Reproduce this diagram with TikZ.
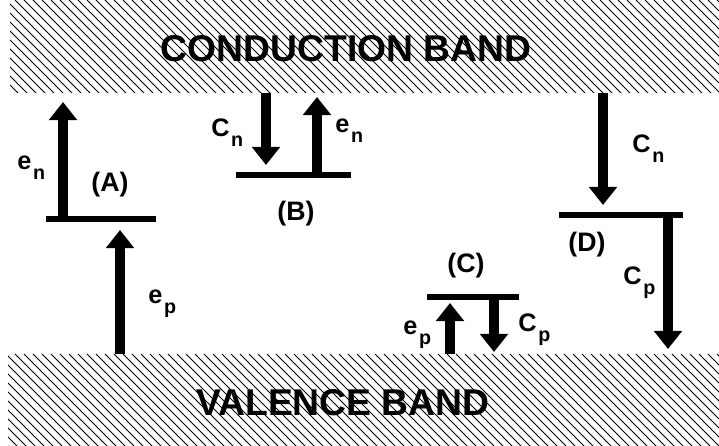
\documentclass[tikz,border=0pt]{standalone}
\usepackage{fontspec}
\setmainfont{Liberation Sans}
\usepackage{tikz}
\usetikzlibrary{arrows.meta}

\newcommand{\rate}[2]{#1\kern1.2pt\raisebox{-6.5pt}{\fontsize{14}{14}\selectfont #2}}

\tikzset{
  hatchline/.style={line width=0.55pt},
  bandtext/.style={font=\fontsize{26.5}{28}\selectfont\bfseries},
  level/.style={line width=0.15cm},
  carrier/.style={line width=0.24cm,-{Triangle[width=0.68cm,length=0.45cm]}},
  ratelbl/.style={anchor=base west,inner sep=0pt,font=\fontsize{18}{18}\selectfont\bfseries},
  casename/.style={font=\fontsize{19}{19}\selectfont\bfseries}
}

\begin{document}
\begin{tikzpicture}[x=0.025cm,y=-0.025cm]
  \useasboundingbox (0,0) rectangle (719,446);
  % conduction band
  \begin{scope}
    \clip (10,0) rectangle (719,93);
    \foreach \k in {-120,-111,...,719}
      \draw[hatchline] (\k,0) -- ++(120,120);
  \end{scope}
  % valence band
  \begin{scope}
    \clip (8,354) rectangle (719,446);
    \foreach \k in {-120,-111,...,719}
      \draw[hatchline] (\k,354) -- ++(120,120);
  \end{scope}
  \node[bandtext] (cb) at (346,49) {CONDUCTION BAND};
  \node[bandtext] (vb) at (343,403) {VALENCE BAND};

  % (A)
  \coordinate (A-l) at (46,219);
  \coordinate (A-r) at (156,219);
  \coordinate (A-en) at (63,219);
  \coordinate (A-en-tip) at (63,102);
  \coordinate (A-ep) at (120,354);
  \coordinate (A-ep-tip) at (120,230);
  \draw[level] (A-l) -- (A-r);
  \draw[carrier] (A-en) -- (A-en-tip);
  \draw[carrier] (A-ep) -- (A-ep-tip);
  \node[casename] (A) at (110,185) {(A)};
  \node[ratelbl] (A-en-lbl) at (17,170) {\rate{e}{n}};
  \node[ratelbl] (A-ep-lbl) at (148,304) {\rate{e}{p}};

  % (B)
  \coordinate (B-l) at (236,175);
  \coordinate (B-r) at (351,175);
  \coordinate (B-cn) at (266,93);
  \coordinate (B-cn-tip) at (266,165);
  \coordinate (B-en) at (317,175);
  \coordinate (B-en-tip) at (317,97);
  \draw[level] (B-l) -- (B-r);
  \draw[carrier] (B-cn) -- (B-cn-tip);
  \draw[carrier] (B-en) -- (B-en-tip);
  \node[casename] (B) at (296,214) {(B)};
  \node[ratelbl] (B-cn-lbl) at (211,137) {\rate{C}{n}};
  \node[ratelbl] (B-en-lbl) at (335,133) {\rate{e}{n}};

  % (C)
  \coordinate (C-l) at (427,297);
  \coordinate (C-r) at (519,297);
  \coordinate (C-ep) at (450,354);
  \coordinate (C-ep-tip) at (450,303);
  \coordinate (C-cp) at (494,297);
  \coordinate (C-cp-tip) at (494,352);
  \draw[level] (C-l) -- (C-r);
  \draw[carrier] (C-ep) -- (C-ep-tip);
  \draw[carrier] (C-cp) -- (C-cp-tip);
  \node[casename] (C) at (466,266) {(C)};
  \node[ratelbl] (C-ep-lbl) at (403,335) {\rate{e}{p}};
  \node[ratelbl] (C-cp-lbl) at (518,332) {\rate{C}{p}};

  % (D)
  \coordinate (D-l) at (559,215);
  \coordinate (D-r) at (683,215);
  \coordinate (D-cn) at (603,93);
  \coordinate (D-cn-tip) at (603,205);
  \coordinate (D-cp) at (668,215);
  \coordinate (D-cp-tip) at (668,349);
  \draw[level] (D-l) -- (D-r);
  \draw[carrier] (D-cn) -- (D-cn-tip);
  \draw[carrier] (D-cp) -- (D-cp-tip);
  \node[casename] (D) at (587,245) {(D)};
  \node[ratelbl] (D-cn-lbl) at (632,153) {\rate{C}{n}};
  \node[ratelbl] (D-cp-lbl) at (623,285) {\rate{C}{p}};
\end{tikzpicture}
\end{document}
